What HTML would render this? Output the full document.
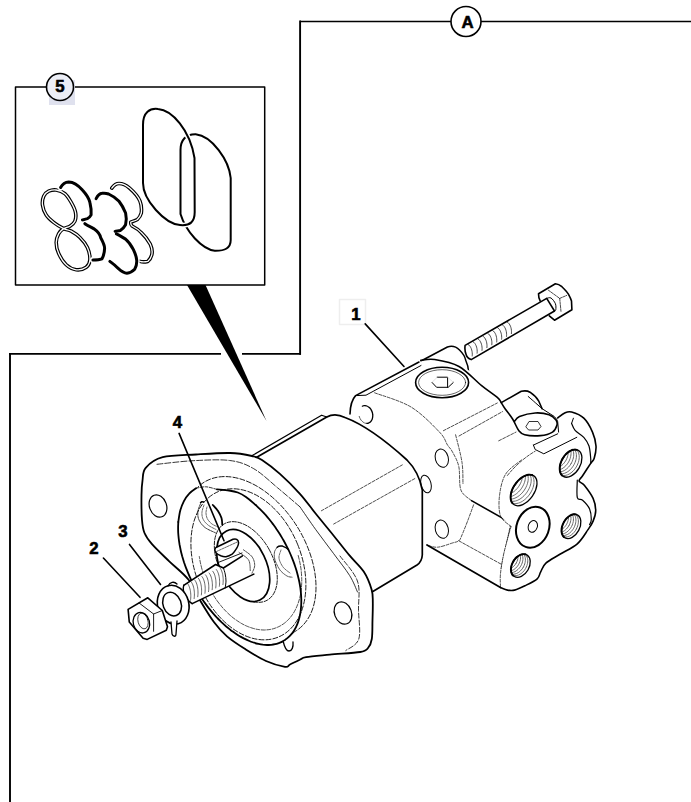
<!DOCTYPE html>
<html><head><meta charset="utf-8">
<style>
html,body{margin:0;padding:0;background:#fff;width:691px;height:802px;overflow:hidden}
svg{display:block;position:absolute;left:0;top:0}
text{font-family:"Liberation Sans",sans-serif;font-weight:bold}
</style></head><body>
<svg width="691" height="802" viewBox="0 0 691 802">
<g fill="none" stroke="#000" stroke-linecap="round" stroke-linejoin="round">
<g stroke-linecap="butt">
<path d="M300.1,21.5 H451 M481,21.5 H691" stroke-width="1.7"/>
<path d="M300.1,20.6 V354.8" stroke-width="1.9"/>
<path d="M9,353.9 H221 M242,353.9 H301" stroke-width="1.9"/>
<path d="M10,353 V802" stroke-width="1.9"/>
</g>
<ellipse cx="466" cy="21.5" rx="15" ry="15" stroke-width="1.6" fill="#fff"/>
<rect x="15.5" y="87" width="249.2" height="198" stroke-width="1.5"/>
<rect x="49" y="80" width="26" height="25" fill="#dfe1ee" stroke="none"/>
<ellipse cx="60" cy="87" rx="13.5" ry="13.5" stroke-width="1.6" fill="#eceef6"/>
<path d="M187,285 L205.5,285 L266.5,421 Z" fill="#000" stroke="none"/>
<rect x="339.5" y="299.5" width="26" height="25" stroke="#eee" stroke-width="1.5"/>
<!-- INSET O-RINGS -->
<g id="inset">
<!-- big ovals -->
<path d="M180.5,150 C180.5,140 186,134 195.7,134.2 C212,136 229,160 230.7,178 L230.7,240 C230.7,248 225,251 214.8,250.8 C202,249 186,232 180.5,214 Z" stroke-width="2"/>
<path d="M143,125 C143,112 150,108 158,109 C172,110 190,130 194.5,158 L194.7,212 C194.7,222 190,226 180,225 C165,224 143,200 143,183 Z" stroke-width="5" stroke="#fff"/>
<path d="M143,125 C143,112 150,108 158,109 C172,110 190,130 194.5,158 L194.7,212 C194.7,222 190,226 180,225 C165,224 143,200 143,183 Z" stroke-width="2"/>
<!-- left 8 -->
<path d="M63.7,228.6 C60.8,227.2 56.6,224.7 53.7,222.4 C50.8,220.1 48.1,217.8 46.2,214.9 C44.3,212 42.9,208 42.5,204.9 C42.1,201.8 42.7,198.5 43.7,196.2 C44.7,193.9 46.6,192.2 48.7,191.2 C50.8,190.2 53.5,189.6 56.2,190 C58.9,190.4 62.4,191.6 64.9,193.7 C67.4,195.8 69.4,199.3 71.2,202.4 C73,205.5 74.9,209.3 75.5,212.4 C76.1,215.5 75.8,218.9 74.9,221.2 C74,223.5 71.8,225 69.9,226.2 C68,227.4 65.6,227.4 63.7,228.6 C61.8,229.8 60,231.3 58.7,233.6 C57.5,235.9 56.2,239.1 56.2,242.4 C56.2,245.7 57,249.9 58.7,253.6 C60.4,257.3 63.3,262.1 66.2,264.8 C69.1,267.5 72.9,269.4 76.2,269.8 C79.5,270.2 83.9,269 86.2,267.3 C88.5,265.6 89.7,263.1 89.9,259.8 C90.1,256.5 89.1,251.1 87.4,247.4 C85.7,243.7 82.6,240.1 79.9,237.4 C77.2,234.7 73.9,232.6 71.2,231.1 C68.5,229.6 66.6,230 63.7,228.6 Z" stroke-width="3.6"/>
<path d="M63.7,228.6 C60.8,227.2 56.6,224.7 53.7,222.4 C50.8,220.1 48.1,217.8 46.2,214.9 C44.3,212 42.9,208 42.5,204.9 C42.1,201.8 42.7,198.5 43.7,196.2 C44.7,193.9 46.6,192.2 48.7,191.2 C50.8,190.2 53.5,189.6 56.2,190 C58.9,190.4 62.4,191.6 64.9,193.7 C67.4,195.8 69.4,199.3 71.2,202.4 C73,205.5 74.9,209.3 75.5,212.4 C76.1,215.5 75.8,218.9 74.9,221.2 C74,223.5 71.8,225 69.9,226.2 C68,227.4 65.6,227.4 63.7,228.6 C61.8,229.8 60,231.3 58.7,233.6 C57.5,235.9 56.2,239.1 56.2,242.4 C56.2,245.7 57,249.9 58.7,253.6 C60.4,257.3 63.3,262.1 66.2,264.8 C69.1,267.5 72.9,269.4 76.2,269.8 C79.5,270.2 83.9,269 86.2,267.3 C88.5,265.6 89.7,263.1 89.9,259.8 C90.1,256.5 89.1,251.1 87.4,247.4 C85.7,243.7 82.6,240.1 79.9,237.4 C77.2,234.7 73.9,232.6 71.2,231.1 C68.5,229.6 66.6,230 63.7,228.6 Z" stroke-width="1.3" stroke="#fff"/>
<!-- right 3-shape -->
<path d="M111.8,188.1 C114,185 116,183.5 119,183.5 C123,183.5 126,185 129.5,188.1 C134,192 138,196 140,201.2 C141.5,205 141.8,209 141.3,213 C140.5,216 139,218 137.4,219.5 C135,221 132,221.5 130.8,222.1 C130.5,224 131,225 132.1,226 C136,228 139,230 141.3,232.6 C145,236 148,240 150.4,244.4 C152,248 152.5,252 151.8,254.8 C151,258 149.5,260 147.8,261.4 C145,262 142,262 140,261.4" stroke-width="3.6"/>
<path d="M111.8,188.1 C114,185 116,183.5 119,183.5 C123,183.5 126,185 129.5,188.1 C134,192 138,196 140,201.2 C141.5,205 141.8,209 141.3,213 C140.5,216 139,218 137.4,219.5 C135,221 132,221.5 130.8,222.1 C130.5,224 131,225 132.1,226 C136,228 139,230 141.3,232.6 C145,236 148,240 150.4,244.4 C152,248 152.5,252 151.8,254.8 C151,258 149.5,260 147.8,261.4 C145,262 142,262 140,261.4" stroke-width="1.3" stroke="#fff"/>
<!-- black backup rings -->
<g stroke="#fff" stroke-width="6">
<path d="M60.6,187.5 C63,183 66,182 68.7,181.9 C74,182 79,186 82.4,190 C86,194 89,198 89.9,202.4 C91,207 91.5,211 91.1,214.9 C90,217 89,218 87.4,218.7 C85,219.5 83,219.7 82.4,219.9"/>
<path d="M84.9,223.7 C88,226 91,227 93.6,228.6 C97,231 100,234 100.7,237.8 C103,242 104.6,246 104.6,248.3 C104.5,253 103,257 102,258.8 C99,260 96,260 92.9,260"/>
<path d="M96.1,198.6 C98,195 100,193.5 102,193.3 C104,193 106,193 108.6,194 C113,196 116,198 119,201.2 C122,205 124,209 125.6,213 C126.5,217 126.5,221 125.6,224.7 C124,227.5 122,229.5 120.3,230.6 C118,231 116,231 115.1,231.3"/>
<path d="M116.4,233.9 C119,235 122,237 125.6,239.1 C129,242 131.5,246 133.4,249.6 C135,253 136.5,257 136.7,260.1 C137,264 136,267 134.7,269.2 C132,272 129,273 126.9,273.2 C123,273 120,270 117.7,267.9 C115,265 112,263 109.9,261.4"/>
</g>
<g stroke-width="3">
<path d="M60.6,187.5 C63,183 66,182 68.7,181.9 C74,182 79,186 82.4,190 C86,194 89,198 89.9,202.4 C91,207 91.5,211 91.1,214.9 C90,217 89,218 87.4,218.7 C85,219.5 83,219.7 82.4,219.9"/>
<path d="M84.9,223.7 C88,226 91,227 93.6,228.6 C97,231 100,234 100.7,237.8 C103,242 104.6,246 104.6,248.3 C104.5,253 103,257 102,258.8 C99,260 96,260 92.9,260"/>
<path d="M96.1,198.6 C98,195 100,193.5 102,193.3 C104,193 106,193 108.6,194 C113,196 116,198 119,201.2 C122,205 124,209 125.6,213 C126.5,217 126.5,221 125.6,224.7 C124,227.5 122,229.5 120.3,230.6 C118,231 116,231 115.1,231.3"/>
<path d="M116.4,233.9 C119,235 122,237 125.6,239.1 C129,242 131.5,246 133.4,249.6 C135,253 136.5,257 136.7,260.1 C137,264 136,267 134.7,269.2 C132,272 129,273 126.9,273.2 C123,273 120,270 117.7,267.9 C115,265 112,263 109.9,261.4"/>
</g>
</g>

<path d="M546.7,298.4 C547.4,298.3 549.5,297.1 551,298 C552.5,298.9 554.6,301.8 555.4,303.7 C556.2,305.6 555.9,308.5 555.8,309.7 C555.6,310.9 554.7,310.8 554.5,311" stroke-width="1.0"/>
<path d="M538.5,293.7 L555.4,283.7 C558,284 560,285 561.5,286.3 C564,289 566.5,291 568.4,294.1 C570,297 571,299 571.5,301 L571.9,309.7 L554.5,320.2 L549.3,315.8 M538.5,293.7 L538.9,297.6 L540.2,301" stroke-width="1.6" fill="#fff"/>
<path d="M465.1,345.4 L546.7,298.4 L554.5,311 L471.2,359.6 C468,358.5 466.5,356 466.1,354.5 C465,352 464.5,350 465.1,345.4 Z" stroke-width="1.6" fill="#fff"/>
<path d="M546.7,298.4 C547.4,298.3 549.5,297.1 551,298 C552.5,298.9 554.6,301.8 555.4,303.7 C556.2,305.6 555.9,308.5 555.8,309.7 C555.6,310.9 554.7,310.8 554.5,311" stroke-width="1.0"/>
<path d="M548.4,290.2 L559.7,298.4 L566.7,295.4 M559.7,298.4 L561,311.5" stroke-width="0.7" stroke-dasharray="2.5,1"/>
<path d="M468.2,344.5 C471.2,346.5 472.7,351.5 472.2,356.0" stroke-width="0.7" stroke-dasharray="2,0.8"/>
<path d="M473.1,341.7 C476.1,343.7 477.6,348.7 477.1,353.2" stroke-width="0.7" stroke-dasharray="2,0.8"/>
<path d="M478.0,338.9 C481.0,340.9 482.5,345.9 482.0,350.4" stroke-width="0.7" stroke-dasharray="2,0.8"/>
<path d="M482.9,336.1 C485.9,338.1 487.4,343.1 486.9,347.6" stroke-width="0.7" stroke-dasharray="2,0.8"/>
<path d="M487.8,333.3 C490.8,335.3 492.3,340.3 491.8,344.8" stroke-width="0.7" stroke-dasharray="2,0.8"/>
<path d="M492.7,330.5 C495.7,332.5 497.2,337.5 496.7,342.0" stroke-width="0.7" stroke-dasharray="2,0.8"/>
<path d="M497.6,327.7 C500.6,329.7 502.1,334.7 501.6,339.2" stroke-width="0.7" stroke-dasharray="2,0.8"/>
<path d="M502.5,324.9 C505.5,326.9 507.0,331.9 506.5,336.4" stroke-width="0.7" stroke-dasharray="2,0.8"/>
<path d="M507.4,322.1 C510.4,324.1 511.9,329.1 511.4,333.6" stroke-width="0.7" stroke-dasharray="2,0.8"/>
<path d="M421,361 L447.4,347 C452,345.5 456.5,347 459.5,350 C463,353.5 465,356 465.6,360 C467.5,364 468.5,368 468.7,372.4" stroke-width="1.5" fill="#fff"/>
<path d="M352,397 L419,362 C430,359 450,362 465,368 C480,377 492,388 501.3,402.6 L520,440 L505,473 L499,494 L501,511 L500.5,587.5 L427,545 L350,413 C348,405 349,400 352,397 Z" stroke-width="0" fill="#fff" stroke="none"/>
<path d="M350,414 C350.2,406 351.5,400 355.6,395.6 L419,362" stroke-width="1.6"/>
<path d="M355.6,395.6 L366,395.2 L421,365.5" stroke-width="1.0"/>
<path d="M420.8,360.4 C423.1,360.2 428.3,358.5 434.7,359.5 C441.1,360.5 451.2,362.1 459,366.5 C466.8,370.9 475.2,380.5 481.6,385.6 C488,390.8 494,394.6 497.3,397.4 C500.6,400.2 500.6,401.7 501.3,402.6" stroke-width="1.6"/>
<ellipse cx="442.1" cy="382.5" rx="26.5" ry="15.2" stroke-width="1.6" fill="#fff"/>
<ellipse cx="442.1" cy="382.5" rx="23.5" ry="12.8" stroke-width="0.6"/>
<path d="M432,382.4 L436.6,387.3 L448.2,387.3 L453.4,382.4 M437.2,377.2 L447.6,377.2 L447.6,387.3" stroke-width="1.0"/>
<path d="M432,382.4 L437.2,377.2 M447.6,377.2 L453.4,382.4" stroke-width="0.6" stroke="#ccc"/>
<path d="M443.4,430.7 L497.3,403 M459,436 L502.5,411.6 M498.7,440.8 L516,432.1" stroke-width="0.7" stroke-dasharray="3,1.5"/>
<path d="M374.6,392.8 C380.7,395.2 400.2,400.5 411,407 C421.8,413.5 433.3,425.7 439.4,432 C445.5,438.3 445.3,441.7 447.5,445 C449.7,448.3 450.5,448.2 452.4,451.8 C454.3,455.4 457.4,460.2 458.8,466.6 C460.2,473 458.8,484.3 460.9,490 C463,495.7 469.7,498.8 471.5,500.6" stroke-width="0.7" stroke-dasharray="3,1.5"/>
<path d="M455.6,434.8 C456.7,439.4 460.8,454.3 462,462.4 C463.2,470.5 462.8,480.1 463,483.6" stroke-width="0.7" stroke-dasharray="3,1.5"/>
<path d="M362.4,406.2 C362.6,406.2 363.3,405.8 363.8,405.7 C364.2,405.6 364.7,405.6 365.2,405.6 C365.8,405.7 366.3,405.8 366.8,406 C367.3,406.2 367.8,406.4 368.2,406.7 C368.7,407 369.2,407.4 369.6,407.8 C370,408.2 370.4,408.7 370.8,409.2 C371.1,409.7 371.4,410.3 371.7,410.9 C372,411.5 372.2,412.1 372.4,412.7 C372.5,413.4 372.7,414 372.7,414.7 C372.8,415.3 372.8,416 372.7,416.6 C372.7,417.2 372.6,417.8 372.4,418.4 C372.3,419 372.1,419.5 371.8,420 C371.6,420.5 371.2,421 370.9,421.4 C370.6,421.8 370.2,422.2 369.8,422.4 C369.3,422.7 368.9,423 368.4,423.1 C367.9,423.3 367.2,423.3 367,423.4" stroke-width="1.3"/>
<path d="M367,423.4 C366.8,423.4 366.1,423.3 365.7,423.3 C365.3,423.2 364.9,423.1 364.5,422.9 C364.1,422.7 363.7,422.5 363.4,422.3 C363,422 362.6,421.8 362.3,421.4 C361.9,421.1 361.6,420.8 361.3,420.4 C361,420 360.7,419.6 360.4,419.1 C360.2,418.7 359.9,418.2 359.7,417.7 C359.5,417.3 359.3,416.5 359.2,416.3" stroke-width="0.7" stroke-dasharray="2,1"/>
<ellipse cx="441.8" cy="458.2" rx="6.5" ry="9.3" transform="rotate(-15 441.8 458.2)" stroke-width="1.0"/>
<ellipse cx="441.8" cy="529.2" rx="6.5" ry="9.3" transform="rotate(-15 441.8 529.2)" stroke-width="1.0"/>
<ellipse cx="426" cy="484" rx="5" ry="9" transform="rotate(-15 426 484)" stroke-width="1.0"/>
<path d="M471.5,500.6 L511,523" stroke-width="1.6"/>
<path d="M427,545 L500.5,587.5" stroke-width="1.7"/>
<path d="M473.6,504.8 C472.7,507.3 469.9,515 468,520 C466.1,525 463.5,531.5 462,535 C460.5,538.5 460.4,539.5 458.8,540.8 C457.2,542.1 455.9,541.9 452.4,543 C448.9,544.1 441.8,546.9 437.6,547.2 C433.4,547.6 428.8,545.5 427,545.1" stroke-width="0.7" stroke-dasharray="3,1.5"/>
<path d="M458.8,540.8 L501.2,564.2 M510.7,523.9 L501.2,568.4" stroke-width="0.7" stroke-dasharray="3,1.5"/>
<path d="M501.3,402.6 L521.3,391.3 L530,392.2 L538.6,400.8 L542.1,408.7 L554.3,416.5 L557.7,416.5 L564.7,413 L571.6,412.1 L583.8,418.2 L592.5,432.1 L596,446 L594.2,458.2 L590.7,463.4 L582.6,475.7 L579.1,481 L584.3,485.3 L593.1,498.4 L595.7,510.7 L593.1,521.1 L587.8,529.9 L577.3,543.8 L559.9,554.3 L545.9,563.1 L540.7,571.8 L537.2,578.8 L524.9,585.8 L514.5,590.1 L507.5,590.1 L500.5,587.5 L500.5,573.5 L504,552.6 L511,526.4 L500.5,515.9 L499.6,494.9 L505.7,474 L521.4,460 L533.4,445.1 L518.7,430.4 L512.6,419 L505.6,409.5 Z" stroke-width="0" fill="#fff" stroke="none"/>
<path d="M501.3,402.6 L521.3,391.3 C525,390.5 528,391 530,392.2 C534,395 537,398 538.6,400.8 L542.1,408.7" stroke-width="1.6"/>
<path d="M528.2,396.5 C531,399 533.5,401 535.2,402.6 L542.1,408.7 L554.3,416.5 C556,418.5 557.5,420 557.7,421.7 L558.6,432.1" stroke-width="1.0"/>
<path d="M557.7,418 C558.9,417.2 562.4,414 564.7,413 C567,412 568.4,411.2 571.6,412.1 C574.8,413 580.3,414.9 583.8,418.2 C587.3,421.5 590.5,427.5 592.5,432.1 C594.5,436.7 595.7,441.6 596,446 C596.3,450.4 595.1,455.3 594.2,458.2 C593.3,461.1 592.6,460.5 590.7,463.4 C588.8,466.3 584.5,472.8 582.6,475.7 C580.7,478.6 578.8,479.4 579.1,481 C579.4,482.6 582,482.4 584.3,485.3 C586.6,488.2 591.2,494.2 593.1,498.4 C595,502.6 595.7,506.9 595.7,510.7 C595.7,514.5 594.4,517.9 593.1,521.1 C591.8,524.3 590.4,526.1 587.8,529.9 C585.2,533.7 581.9,539.7 577.3,543.8 C572.6,547.9 565.1,551.1 559.9,554.3 C554.7,557.5 549.1,560.2 545.9,563.1 C542.7,566 542.2,569.2 540.7,571.8 C539.2,574.4 539.8,576.5 537.2,578.8 C534.6,581.1 528.7,583.9 524.9,585.8 C521.1,587.7 517.4,589.4 514.5,590.1 C511.6,590.8 509.8,590.5 507.5,590.1 C505.2,589.7 501.7,587.9 500.5,587.5" stroke-width="1.6"/>
<path d="M571.6,423.4 C572.2,424.6 573.1,428.1 575.1,430.4 C577.1,432.7 581.5,434.7 583.8,437.3 C586.1,439.9 587.9,442.5 589,446 C590.1,449.5 590.4,455.3 590.7,458.2 C591,461.1 590.7,462.5 590.7,463.4" stroke-width="1.2"/>
<path d="M571.6,423.4 L573.4,418.2" stroke-width="1.0"/>
<path d="M577.3,480 C577.3,482.9 576.4,494.2 577.3,497.6 C578.2,501 580.5,498.3 582.6,500.2 C584.7,502.1 588.2,505.7 589.6,508.9 C591,512.1 591.3,516.8 591.3,519.4 C591.3,522 589.9,523.7 589.6,524.6" stroke-width="1.2"/>
<path d="M501.3,402.6 C502,403.8 503.7,406.8 505.6,409.5 C507.5,412.2 510.4,415.5 512.6,419 C514.8,422.5 516.7,427.8 518.7,430.4 C520.7,433 521.1,433.8 524.7,434.7 C528.3,435.6 535.8,436 540.4,435.6 C545,435.2 549.8,433.8 552.5,432.1 C555.2,430.4 556.3,427.2 556.9,425.2 C557.5,423.2 557.3,421.8 556,420 C554.7,418.2 552.5,415.9 549,414.7 C545.5,413.5 540.1,412.7 535.2,413 C530.3,413.3 523,415.1 519.5,416.5 C516,417.9 515.2,420.8 514.3,421.7" stroke-width="1.6"/>
<path d="M526,426.5 L529,421.5 L538,421.5 L541,426.5 L538,430 L529,430 Z" stroke-width="0.8"/>
<path d="M533.4,445.1 L535.2,449.5 L543.8,453.8 L576.8,437.3 M533.4,445.1 L557.7,433.8" stroke-width="1.0"/>
<path d="M521.4,460 C518.8,462.3 509.3,468.2 505.7,474 C502.1,479.8 500.5,487.9 499.6,494.9 C498.7,501.9 498.6,510.6 500.5,515.9 C502.4,521.1 509.2,524.6 511,526.4" stroke-width="0.7" stroke-dasharray="3,1.5"/>
<path d="M511,526.4 C509.8,530.8 505.8,544.8 504,552.6 C502.2,560.5 501.1,567.7 500.5,573.5 C499.9,579.3 500.5,585.2 500.5,587.5" stroke-width="0.7" stroke-dasharray="3,1.5"/>
<path d="M507.4,475.5 C515,466 525,457 535.2,451.2" stroke-width="0.7" stroke-dasharray="3,1.5"/>
<clipPath id="pc1"><ellipse cx="570.8" cy="463.4" rx="9.5" ry="15" transform="rotate(30 570.8 463.4)" stroke-width="0"/></clipPath>
<g clip-path="url(#pc1)">
<ellipse cx="568.2" cy="461.9" rx="9.5" ry="14.7" transform="rotate(30 568.2 461.9)" stroke-width="0.55" stroke-dasharray="1.6,0.9"/>
<ellipse cx="565.5" cy="460.4" rx="9.5" ry="14.4" transform="rotate(30 565.5 460.4)" stroke-width="0.55" stroke-dasharray="1.6,0.9"/>
<ellipse cx="562.9" cy="458.8" rx="9.5" ry="14.1" transform="rotate(30 562.9 458.8)" stroke-width="0.55" stroke-dasharray="1.6,0.9"/>
<ellipse cx="560.3" cy="457.3" rx="9.5" ry="13.8" transform="rotate(30 560.3 457.3)" stroke-width="0.55" stroke-dasharray="1.6,0.9"/>
<ellipse cx="557.6" cy="455.8" rx="9.5" ry="13.5" transform="rotate(30 557.6 455.8)" stroke-width="0.55" stroke-dasharray="1.6,0.9"/>
<ellipse cx="555" cy="454.3" rx="9.5" ry="13.2" transform="rotate(30 555 454.3)" stroke-width="0.55" stroke-dasharray="1.6,0.9"/>
</g>
<ellipse cx="570.8" cy="463.4" rx="9.5" ry="15" transform="rotate(30 570.8 463.4)" stroke-width="1.3"/>
<path d="M562,475.4 C561.8,475.1 561.2,474.5 560.9,474 C560.6,473.5 560.4,472.9 560.2,472.3 C560,471.7 559.9,471 559.8,470.3 C559.7,469.6 559.7,468.9 559.7,468.1 C559.7,467.4 559.8,466.6 559.9,465.8 C560.1,465 560.3,464.2 560.5,463.4 C560.7,462.6 561.1,461.8 561.4,461 C561.7,460.2 562.1,459.4 562.6,458.6 C563,457.9 563.5,457.2 564,456.5 C564.5,455.8 565.1,455.1 565.6,454.5 C566.2,453.9 566.8,453.3 567.4,452.8 C568,452.3 568.7,451.8 569.3,451.4 C570,451 570.6,450.7 571.3,450.4 C571.9,450.1 572.6,449.9 573.2,449.8 C573.8,449.6 574.4,449.6 575,449.6 C575.6,449.6 576.5,449.7 576.8,449.8" stroke-width="1.9"/>
<clipPath id="pc2"><ellipse cx="523.8" cy="490.2" rx="10.5" ry="17.5" transform="rotate(35 523.8 490.2)" stroke-width="0"/></clipPath>
<g clip-path="url(#pc2)">
<ellipse cx="521" cy="488.3" rx="10.5" ry="17.1" transform="rotate(35 521 488.3)" stroke-width="0.55" stroke-dasharray="1.6,0.9"/>
<ellipse cx="518.3" cy="486.3" rx="10.5" ry="16.8" transform="rotate(35 518.3 486.3)" stroke-width="0.55" stroke-dasharray="1.6,0.9"/>
<ellipse cx="515.5" cy="484.4" rx="10.5" ry="16.4" transform="rotate(35 515.5 484.4)" stroke-width="0.55" stroke-dasharray="1.6,0.9"/>
<ellipse cx="512.8" cy="482.5" rx="10.5" ry="16.1" transform="rotate(35 512.8 482.5)" stroke-width="0.55" stroke-dasharray="1.6,0.9"/>
<ellipse cx="510" cy="480.6" rx="10.5" ry="15.8" transform="rotate(35 510 480.6)" stroke-width="0.55" stroke-dasharray="1.6,0.9"/>
<ellipse cx="507.3" cy="478.6" rx="10.5" ry="15.4" transform="rotate(35 507.3 478.6)" stroke-width="0.55" stroke-dasharray="1.6,0.9"/>
</g>
<ellipse cx="523.8" cy="490.2" rx="10.5" ry="17.5" transform="rotate(35 523.8 490.2)" stroke-width="1.3"/>
<path d="M512.4,503.3 C512.3,503 511.7,502.2 511.4,501.6 C511.2,501 510.9,500.3 510.8,499.6 C510.7,498.9 510.6,498.1 510.6,497.3 C510.6,496.5 510.6,495.7 510.8,494.8 C510.9,493.9 511.1,493 511.3,492.2 C511.6,491.3 511.9,490.3 512.3,489.4 C512.7,488.5 513.1,487.6 513.6,486.8 C514.1,485.9 514.6,485 515.2,484.2 C515.8,483.3 516.4,482.5 517.1,481.8 C517.7,481 518.4,480.3 519.2,479.6 C519.9,479 520.6,478.4 521.4,477.8 C522.1,477.3 522.9,476.8 523.7,476.4 C524.4,476 525.2,475.6 526,475.3 C526.7,475.1 527.5,474.9 528.2,474.8 C528.9,474.7 529.6,474.6 530.3,474.7 C531,474.7 531.9,475 532.2,475" stroke-width="1.9"/>
<clipPath id="pc3"><ellipse cx="571.2" cy="526.4" rx="8.5" ry="13" transform="rotate(28 571.2 526.4)" stroke-width="0"/></clipPath>
<g clip-path="url(#pc3)">
<ellipse cx="568.8" cy="525.1" rx="8.5" ry="12.7" transform="rotate(28 568.8 525.1)" stroke-width="0.55" stroke-dasharray="1.6,0.9"/>
<ellipse cx="566.4" cy="523.8" rx="8.5" ry="12.5" transform="rotate(28 566.4 523.8)" stroke-width="0.55" stroke-dasharray="1.6,0.9"/>
<ellipse cx="564" cy="522.6" rx="8.5" ry="12.2" transform="rotate(28 564 522.6)" stroke-width="0.55" stroke-dasharray="1.6,0.9"/>
<ellipse cx="561.6" cy="521.3" rx="8.5" ry="12" transform="rotate(28 561.6 521.3)" stroke-width="0.55" stroke-dasharray="1.6,0.9"/>
<ellipse cx="559.2" cy="520" rx="8.5" ry="11.7" transform="rotate(28 559.2 520)" stroke-width="0.55" stroke-dasharray="1.6,0.9"/>
<ellipse cx="556.8" cy="518.7" rx="8.5" ry="11.4" transform="rotate(28 556.8 518.7)" stroke-width="0.55" stroke-dasharray="1.6,0.9"/>
</g>
<ellipse cx="571.2" cy="526.4" rx="8.5" ry="13" transform="rotate(28 571.2 526.4)" stroke-width="1.3"/>
<path d="M563.9,537 C563.7,536.8 563.2,536.3 562.9,535.8 C562.6,535.4 562.4,534.9 562.2,534.3 C562,533.8 561.8,533.2 561.7,532.6 C561.6,532 561.5,531.4 561.5,530.7 C561.5,530.1 561.6,529.4 561.6,528.7 C561.7,528 561.9,527.3 562.1,526.6 C562.2,525.9 562.5,525.2 562.7,524.5 C563,523.8 563.3,523.1 563.7,522.4 C564,521.7 564.4,521.1 564.9,520.5 C565.3,519.9 565.8,519.3 566.2,518.7 C566.7,518.2 567.2,517.7 567.8,517.2 C568.3,516.7 568.8,516.3 569.4,516 C569.9,515.6 570.5,515.3 571.1,515 C571.6,514.8 572.2,514.6 572.7,514.5 C573.3,514.3 573.8,514.3 574.4,514.2 C574.9,514.2 575.7,514.4 575.9,514.4" stroke-width="1.9"/>
<clipPath id="pc4"><ellipse cx="520.6" cy="565.7" rx="8.5" ry="12.5" transform="rotate(30 520.6 565.7)" stroke-width="0"/></clipPath>
<g clip-path="url(#pc4)">
<ellipse cx="518.2" cy="564.3" rx="8.5" ry="12.2" transform="rotate(30 518.2 564.3)" stroke-width="0.55" stroke-dasharray="1.6,0.9"/>
<ellipse cx="515.9" cy="563" rx="8.5" ry="12" transform="rotate(30 515.9 563)" stroke-width="0.55" stroke-dasharray="1.6,0.9"/>
<ellipse cx="513.5" cy="561.6" rx="8.5" ry="11.8" transform="rotate(30 513.5 561.6)" stroke-width="0.55" stroke-dasharray="1.6,0.9"/>
<ellipse cx="511.2" cy="560.3" rx="8.5" ry="11.5" transform="rotate(30 511.2 560.3)" stroke-width="0.55" stroke-dasharray="1.6,0.9"/>
<ellipse cx="508.8" cy="558.9" rx="8.5" ry="11.2" transform="rotate(30 508.8 558.9)" stroke-width="0.55" stroke-dasharray="1.6,0.9"/>
<ellipse cx="506.5" cy="557.5" rx="8.5" ry="11" transform="rotate(30 506.5 557.5)" stroke-width="0.55" stroke-dasharray="1.6,0.9"/>
</g>
<ellipse cx="520.6" cy="565.7" rx="8.5" ry="12.5" transform="rotate(30 520.6 565.7)" stroke-width="1.3"/>
<path d="M513.2,575.6 C513,575.4 512.5,574.9 512.2,574.4 C511.9,574 511.7,573.5 511.5,573 C511.3,572.4 511.2,571.9 511.1,571.3 C511,570.7 510.9,570 510.9,569.4 C510.9,568.8 511,568.1 511.1,567.4 C511.2,566.8 511.4,566.1 511.5,565.4 C511.7,564.7 512,564.1 512.3,563.4 C512.5,562.7 512.9,562.1 513.2,561.5 C513.6,560.8 514,560.2 514.4,559.6 C514.9,559.1 515.3,558.5 515.8,558 C516.3,557.5 516.8,557 517.4,556.6 C517.9,556.2 518.4,555.8 519,555.5 C519.5,555.2 520.1,554.9 520.7,554.7 C521.2,554.5 521.8,554.3 522.3,554.2 C522.9,554.1 523.4,554.1 524,554.1 C524.5,554.1 525.2,554.3 525.5,554.3" stroke-width="1.9"/>
<ellipse cx="532.8" cy="527.2" rx="16.2" ry="21" transform="rotate(20 532.8 527.2)" stroke-width="2.0" fill="#fff"/>
<ellipse cx="532.8" cy="526.4" rx="4.5" ry="6" transform="rotate(20 532.8 526.4)" stroke-width="1.0"/>
<path d="M255,458.2 L326.8,417 C334,413 340,415 345,417.5 C365,425 385,440 407,460 C415,468 420,478 422.3,490 L422.3,555 C422,560 420,563 417,565 L372,592 L300,500 Z" stroke-width="1.7" fill="#fff"/>
<path d="M255,458.2 L252.2,455.6 L321.6,415.2 L326.8,417" stroke-width="1.2"/>
<path d="M402.3,464.9 L321,511 M414.8,478.6 L332.5,524.7" stroke-width="0.7" stroke-dasharray="3,1.5"/>
<path d="M145.7,467.8 C149.1,463.9 154.3,459.4 162.7,457.2 C171.1,455 184.8,455.2 196,454.5 C207.2,453.8 220.7,452.8 230,453 C239.3,453.2 246.7,454.8 252,456 C257.3,457.2 257.4,457 262,460 C266.6,463 273.6,468.3 279.9,473.9 C286.2,479.5 293.9,487.2 299.9,493.8 C305.9,500.4 310.2,506.8 315.8,513.8 C321.4,520.8 328.1,528.7 333.7,535.7 C339.3,542.7 344.7,549.7 349.7,555.7 C354.7,561.7 360,566 363.7,571.6 C367.4,577.2 370.1,584.5 371.6,589.6 C373.1,594.7 372.7,596.9 372.8,602 C372.9,607.1 372.7,613.8 372.5,620 C372.3,626.2 372.6,634.3 371.8,639 C371.1,643.7 369.9,645.8 368,648 C366.1,650.2 366.6,650.9 360.2,652 C353.8,653.1 338.8,653.8 329.8,654.7 C320.8,655.6 311.1,656.4 306.1,657.2 C301.1,658 302.5,658.5 299.8,659.7 C297.1,660.9 292.5,663.3 290,664.5 C287.5,665.7 289,667.4 285,666.8 C281,666.2 272.5,663.9 266,661 C259.5,658.1 252.3,653.6 245.8,649.5 C239.3,645.4 232.3,641 227,636.4 C221.7,631.8 218.2,627.8 213.9,622 C209.6,616.2 205.1,608.7 200.9,601.7 C196.7,594.7 193.9,586.6 188.6,579.8 C183.3,573 175.1,567 169,561.1 C162.9,555.2 156.1,548.9 152,544.2 C147.9,539.5 146.2,537 144.5,533 C142.8,529 142.5,526.3 142,520 C141.5,513.7 141.4,501.6 141.5,495 C141.6,488.4 141.8,485.1 142.5,480.6 C143.2,476.1 142.3,471.7 145.7,467.8 Z" stroke-width="1.8" fill="#fff"/>
<path d="M157,464.3 C163,463.7 181.1,461.3 193.2,460.7 C205.3,460.1 219.7,459.2 229.8,460.5 C239.9,461.8 245.7,464.1 253.7,468.7 C261.7,473.2 269.9,481.4 277.6,487.8 C285.3,494.2 296.3,503.7 300,506.9" stroke-width="0.8" stroke-dasharray="6,2"/>
<path d="M300,506.9 C302.6,510.7 310.2,521.9 315.8,529.7 C321.4,537.5 328.1,546.1 333.7,553.7 C339.3,561.4 345.7,569.2 349.7,575.6 C353.7,582 356.2,589.3 357.5,592" stroke-width="0.8"/>
<path d="M340,556 C342.9,560.2 354.3,572 357.4,581 C360.5,590 358.3,600.3 358.5,610 C358.7,619.7 360.9,632.2 358.8,639 C356.7,645.8 348,648.6 345.8,650.5" stroke-width="0.8" stroke-dasharray="5,2"/>
<ellipse cx="158" cy="506" rx="8.5" ry="11.5" transform="rotate(-20 158 506)" stroke-width="1.2"/>
<ellipse cx="343" cy="613" rx="8.5" ry="11.5" transform="rotate(-20 343 613)" stroke-width="1.2"/>
<ellipse cx="250" cy="556.6" rx="55.9" ry="87.4" transform="rotate(-31.5 250 556.6)" stroke-width="0.8" stroke-dasharray="5,2"/>
<ellipse cx="239.7" cy="564.6" rx="50.1" ry="88" transform="rotate(-29.7 239.7 564.6)" stroke-width="0" fill="#fff" stroke="none"/>
<path d="M255.6,504.9 C256.3,505.6 258.6,507.7 260,509.1 C261.5,510.6 263,512.1 264.4,513.7 C265.8,515.2 267.2,516.9 268.6,518.5 C269.9,520.2 271.3,521.9 272.6,523.6 C273.9,525.4 275.2,527.1 276.4,529 C277.7,530.8 278.9,532.6 280.1,534.5 C281.2,536.4 282.4,538.3 283.5,540.2 C284.6,542.2 285.6,544.1 286.6,546.1 C287.6,548 288.6,550 289.5,552 C290.4,554 291.3,556.1 292.1,558.1 C292.9,560.1 293.7,562.1 294.4,564.1 C295.1,566.2 295.8,568.2 296.4,570.2 C297,572.2 297.5,574.3 298,576.3 C298.5,578.3 299,580.3 299.4,582.2 C299.8,584.2 300.1,586.2 300.4,588.1 C300.6,590 300.8,592 301,593.9 C301.2,595.7 301.2,597.6 301.3,599.4 C301.3,601.2 301.3,603 301.2,604.8 C301.1,606.5 301,608.3 300.8,609.9 C300.6,611.6 300.4,613.2 300,614.8 C299.7,616.4 299.4,617.9 298.9,619.4 C298.5,620.9 298,622.3 297.5,623.7 C296.9,625.1 296.4,626.4 295.7,627.7 C295.1,628.9 294.4,630.1 293.6,631.2 C292.9,632.4 292.1,633.4 291.2,634.4 C290.3,635.4 289.4,636.4 288.5,637.2 C287.6,638.1 286.6,638.9 285.5,639.6 C284.5,640.4 283.4,641 282.3,641.6 C281.2,642.2 280,642.7 278.8,643.1 C277.6,643.5 276.4,643.9 275.1,644.2 C273.8,644.5 272.5,644.7 271.2,644.8 C269.8,644.9 268.5,645 267.1,645 C265.7,644.9 264.3,644.8 262.8,644.7 C261.4,644.5 259.9,644.2 258.5,643.9 C257,643.6 255.5,643.2 254,642.7 C252.5,642.2 250.9,641.7 249.4,641 C247.9,640.4 246.3,639.7 244.8,638.9 C243.2,638.2 241.7,637.3 240.1,636.4 C238.6,635.5 237,634.5 235.5,633.5 C233.9,632.4 232.4,631.3 230.8,630.2 C229.3,629 227.8,627.7 226.2,626.5 C224.7,625.2 223.2,623.8 221.7,622.4 C220.3,621 218.8,619.5 217.3,618 C215.9,616.5 214.5,614.9 213.1,613.3 C211.7,611.7 210.3,610.1 208.9,608.4 C207.6,606.7 206.3,604.9 205,603.1 C203.7,601.4 202.5,599.5 201.3,597.7 C200,595.9 198.9,594 197.7,592.1 C196.6,590.2 195.5,588.2 194.4,586.3 C193.4,584.3 192.4,582.4 191.4,580.4 C190.5,578.4 189.5,576.4 188.7,574.4 C187.8,572.4 187,570.3 186.2,568.3 C185.4,566.3 184.7,564.3 184,562.2 C183.4,560.2 182.8,558.2 182.2,556.2 C181.7,554.2 181.1,552.2 180.7,550.2 C180.3,548.2 179.9,546.2 179.5,544.2 C179.2,542.3 178.9,540.3 178.7,538.4 C178.5,536.5 178.3,534.6 178.2,532.8 C178.1,530.9 178.1,529.1 178.1,527.3 C178.1,525.5 178.3,522.9 178.3,522" stroke-width="1.8"/>
<path d="M178.3,522 C178.6,520.1 179.3,514.2 180.2,510.8 C181.1,507.4 182.3,504.2 183.8,501.3 C185.3,498.4 187.1,495.8 189.2,493.6 C191.2,491.4 194.9,489.1 196.1,488.2" stroke-width="1.8"/>
<path d="M196.1,488.2 C197.8,488 202.5,486.6 206,486.8 C209.5,487 215.2,489 217,489.4" stroke-width="0.8" stroke-dasharray="3,1.5"/>
<path d="M217,489.4 C219,489.6 225.5,490 229,490.5 C232.5,491 235,491.4 237.8,492.5 C240.6,493.6 243,494.9 246,497 C249,499.1 254,503.6 255.6,504.9" stroke-width="1.8"/>
<ellipse cx="248.4" cy="564.3" rx="53.1" ry="78.7" transform="rotate(-22.3 248.4 564.3)" stroke-width="0.8" stroke-dasharray="5,2"/>
<path d="M298.2,555.5 C298.5,556.8 299.5,560.5 300,563 C300.5,565.5 300.9,568 301.2,570.5 C301.4,573 301.6,575.5 301.7,577.9 C301.8,580.3 301.8,582.7 301.6,585.1 C301.5,587.4 301.2,589.8 300.9,592 C300.6,594.2 300.1,596.4 299.6,598.5 C299,600.7 298.4,602.7 297.6,604.6 C296.9,606.6 296,608.5 295.1,610.2 C294.2,612 293.1,613.7 292,615.2 C290.9,616.8 289.7,618.2 288.4,619.6 C287.1,620.9 285.8,622.1 284.4,623.2 C282.9,624.3 281.4,625.2 279.9,626.1 C278.3,626.9 276.7,627.6 275,628.2 C273.4,628.8 271.7,629.2 269.9,629.5 C268.1,629.8 266.3,629.9 264.5,630 C262.7,630 260.8,629.9 258.9,629.6 C257.1,629.4 255.2,629 253.3,628.4 C251.4,627.9 249.4,627.2 247.5,626.4 C245.6,625.7 243.7,624.7 241.9,623.7 C240,622.6 238.1,621.4 236.3,620.1 C234.4,618.9 232.6,617.4 230.8,615.9 C229.1,614.4 227.3,612.7 225.7,611 C224,609.3 222.3,607.4 220.8,605.5 C219.2,603.6 217.7,601.6 216.2,599.5 C214.8,597.4 213.4,595.2 212.1,593 C210.8,590.8 209.6,588.5 208.5,586.1 C207.3,583.8 206.3,581.4 205.3,579 C204.4,576.6 203.5,574.1 202.7,571.6 C201.9,569.2 201.3,566.6 200.7,564.1 C200.1,561.6 199.5,557.9 199.3,556.6" stroke-width="0.7" stroke-dasharray="4,1.5"/>
<ellipse cx="245.8" cy="562" rx="26.5" ry="43.8" transform="rotate(-29.2 245.8 562)" stroke-width="0.8" stroke-dasharray="4,1.5"/>
<ellipse cx="243.2" cy="565.5" rx="22.9" ry="38.4" transform="rotate(-25.8 243.2 565.5)" stroke-width="1.7" fill="#fff"/>
<path d="M201.5,501.5 C200.9,503.1 198.4,508 198,511 C197.6,514 197.7,517 198.9,519.7 C200.1,522.5 202.2,525.3 205,527.5 C207.8,529.7 213.7,531.9 215.4,532.8" stroke-width="0.8" stroke-dasharray="2,1"/>
<path d="M204,505 C203.7,506.2 202.2,509.7 202,512 C201.8,514.3 202,516.8 203,519 C204,521.2 205.8,523.2 208,525 C210.2,526.8 214.7,528.8 216,529.5" stroke-width="0.6" stroke-dasharray="2,1"/>
<path d="M207,507 C206.8,508 205.9,511 206,513 C206.1,515 206.5,517.2 207.5,519 C208.5,520.8 210.2,522.7 212,524 C213.8,525.3 217,526.5 218,527" stroke-width="0.6" stroke-dasharray="2,1"/>
<path d="M200.5,502.5 C201.5,501.8 202.5,501.6 203.6,502" stroke-width="1.4"/>
<path d="M212.8,505 C213.7,506 216.6,508.8 218,511 C219.4,513.2 220.8,515.7 221.5,518 C222.2,520.3 222.2,523.8 222.3,525" stroke-width="1.8"/>
<path d="M283.2,641.5 C284.5,647 286,651 289,651 C292,651 293.5,647 293,642" stroke-width="1.3" fill="#fff"/>
<path d="M277.2,547.2 C279,545.5 281,545.8 282.5,546.1 C285,547 287,548 288.4,549.5" stroke-width="1.5"/>
<path d="M277.2,547.2 C276.8,548 274.9,549.9 274.5,552 C274.1,554.1 274.1,557 275,560 C275.9,563 278,567.3 280,570 C282,572.7 285,574.8 287,576 C289,577.2 291.2,577 292,577.2" stroke-width="0.7" stroke-dasharray="2,1"/>
<path d="M281,550 C280.7,551.3 278.7,555.2 279,558 C279.3,560.8 281.2,564.5 283,567 C284.8,569.5 288.8,572 290,573" stroke-width="0.6" stroke-dasharray="2,1"/>
<path d="M183.7,585.3 L215.6,564.5 L223.4,568 L242.5,555.8 C248,556 252,562 253.8,574.1 L192.2,603.6 C186,600 182,592 183.7,585.3 Z" stroke-width="0" fill="#fff" stroke="none"/>
<path d="M183.7,585.3 L215.6,564.5 L223.4,568 L242.5,555.8" stroke-width="1.6"/>
<path d="M192.2,603.6 L253.8,574.1" stroke-width="1.6"/>
<path d="M183.7,585.3 C182,592 186,600 192.2,603.6" stroke-width="1.4"/>
<path d="M217.4,562.8 L242,553" stroke-width="0.9"/>
<path d="M223.4,568 C223.7,569 224.8,571.8 225.2,574 C225.6,576.2 226,578.7 226,581 C226,583.3 225.3,586.8 225.2,588" stroke-width="1.0"/>
<path d="M243.4,549.8 C244.8,550.9 250.1,554.1 252,556.7 C253.9,559.3 254.7,562.6 254.7,565.4 C254.7,568.1 252.4,571.9 252,573.2" stroke-width="0.7" stroke-dasharray="2,1"/>
<path d="M239,552.4 C240.6,553.7 246.7,556.9 248.6,560 C250.5,563.1 250,569.2 250.3,571" stroke-width="0.7" stroke-dasharray="2,1"/>
<path d="M187.5,583.5 C190.0,586.5 191.5,593.5 190.5,600.5" stroke-width="0.6" stroke-dasharray="1.8,0.8"/>
<path d="M191.1,581.8 C193.6,584.8 195.1,591.8 194.1,598.8" stroke-width="0.6" stroke-dasharray="1.8,0.8"/>
<path d="M194.7,580.0 C197.2,583.0 198.7,590.0 197.7,597.0" stroke-width="0.6" stroke-dasharray="1.8,0.8"/>
<path d="M198.3,578.2 C200.8,581.2 202.3,588.2 201.3,595.2" stroke-width="0.6" stroke-dasharray="1.8,0.8"/>
<path d="M201.9,576.5 C204.4,579.5 205.9,586.5 204.9,593.5" stroke-width="0.6" stroke-dasharray="1.8,0.8"/>
<path d="M205.5,574.8 C208.0,577.8 209.5,584.8 208.5,591.8" stroke-width="0.6" stroke-dasharray="1.8,0.8"/>
<path d="M209.1,573.0 C211.6,576.0 213.1,583.0 212.1,590.0" stroke-width="0.6" stroke-dasharray="1.8,0.8"/>
<path d="M212.7,571.2 C215.2,574.2 216.7,581.2 215.7,588.2" stroke-width="0.6" stroke-dasharray="1.8,0.8"/>
<path d="M216.3,569.5 C218.8,572.5 220.3,579.5 219.3,586.5" stroke-width="0.6" stroke-dasharray="1.8,0.8"/>
<path d="M219.9,567.8 C222.4,570.8 223.9,577.8 222.9,584.8" stroke-width="0.6" stroke-dasharray="1.8,0.8"/>
<path d="M214.8,549.8 C215,548.5 215.5,547.8 216.5,547.2 L233,539.3 C235,538.8 236,539 236.5,539.3 C238,540 238.6,541 238.6,542.8 C238.5,545 238,546 237.3,547.2 C235.5,550 234,552.5 232.1,554.1 C230,555.5 228,556.3 226,556.7 C224,557 222.5,556.5 220.8,555.8 C219,555 217.5,554.2 216.5,553.2 C215.5,552.3 214.8,551.5 214.8,549.8 Z" stroke-width="1.5" fill="#fff"/>
<path d="M216.5,551.5 L237.3,542" stroke-width="0.6" stroke-dasharray="2,1"/>
<ellipse cx="173.2" cy="604.7" rx="15.6" ry="19.7" transform="rotate(-15 173.2 604.7)" stroke-width="1.6" fill="#fff"/>
<ellipse cx="172.1" cy="604.1" rx="9" ry="12.2" transform="rotate(-20 172.1 604.1)" stroke-width="1.5"/>
<path d="M171,622 L172,634 C173,637 176,637 176,634 L177,621" stroke-width="1.3" fill="#fff"/>
<path d="M168,586 C170,582 174,581 177,584" stroke-width="1.3"/>
<path d="M128.1,609.4 L147.8,597.8 L162.3,610.5 L167.5,626.7 L166.3,630.2 L147.2,639.4 L143.1,638.3 L129.3,622.1 Z" stroke-width="1.6" fill="#fff"/>
<path d="M139.1,603 L153.6,614 L162.3,610.5 M153.6,614 L153.6,631.3" stroke-width="0.9"/>
<ellipse cx="141.4" cy="622.7" rx="8.1" ry="10.4" transform="rotate(-15 141.4 622.7)" stroke-width="1.3"/>
<ellipse cx="143" cy="621" rx="5" ry="8" transform="rotate(-15 143 621)" stroke-width="0.7"/>
<path d="M179.1,433.4 L224,540.7" stroke-width="1.6"/>
<path d="M129.5,544.4 L160.5,584.5" stroke-width="1.6"/>
<path d="M103.4,558 L140,597.3" stroke-width="1.6"/>
<path d="M365.2,323.9 L404,366.5" stroke-width="1.6"/>
</g>
<g fill="#000" stroke="#000" stroke-width="0.6" font-size="16.8">
<text x="467.5" y="28" text-anchor="middle">A</text>
<text x="59.8" y="91.8" text-anchor="middle">5</text>
<text x="355.8" y="320" text-anchor="middle">1</text>
<text x="177.4" y="427.8" text-anchor="middle">4</text>
<text x="123" y="537" text-anchor="middle">3</text>
<text x="94" y="554" text-anchor="middle">2</text>
</g>
</svg>
</body></html>
